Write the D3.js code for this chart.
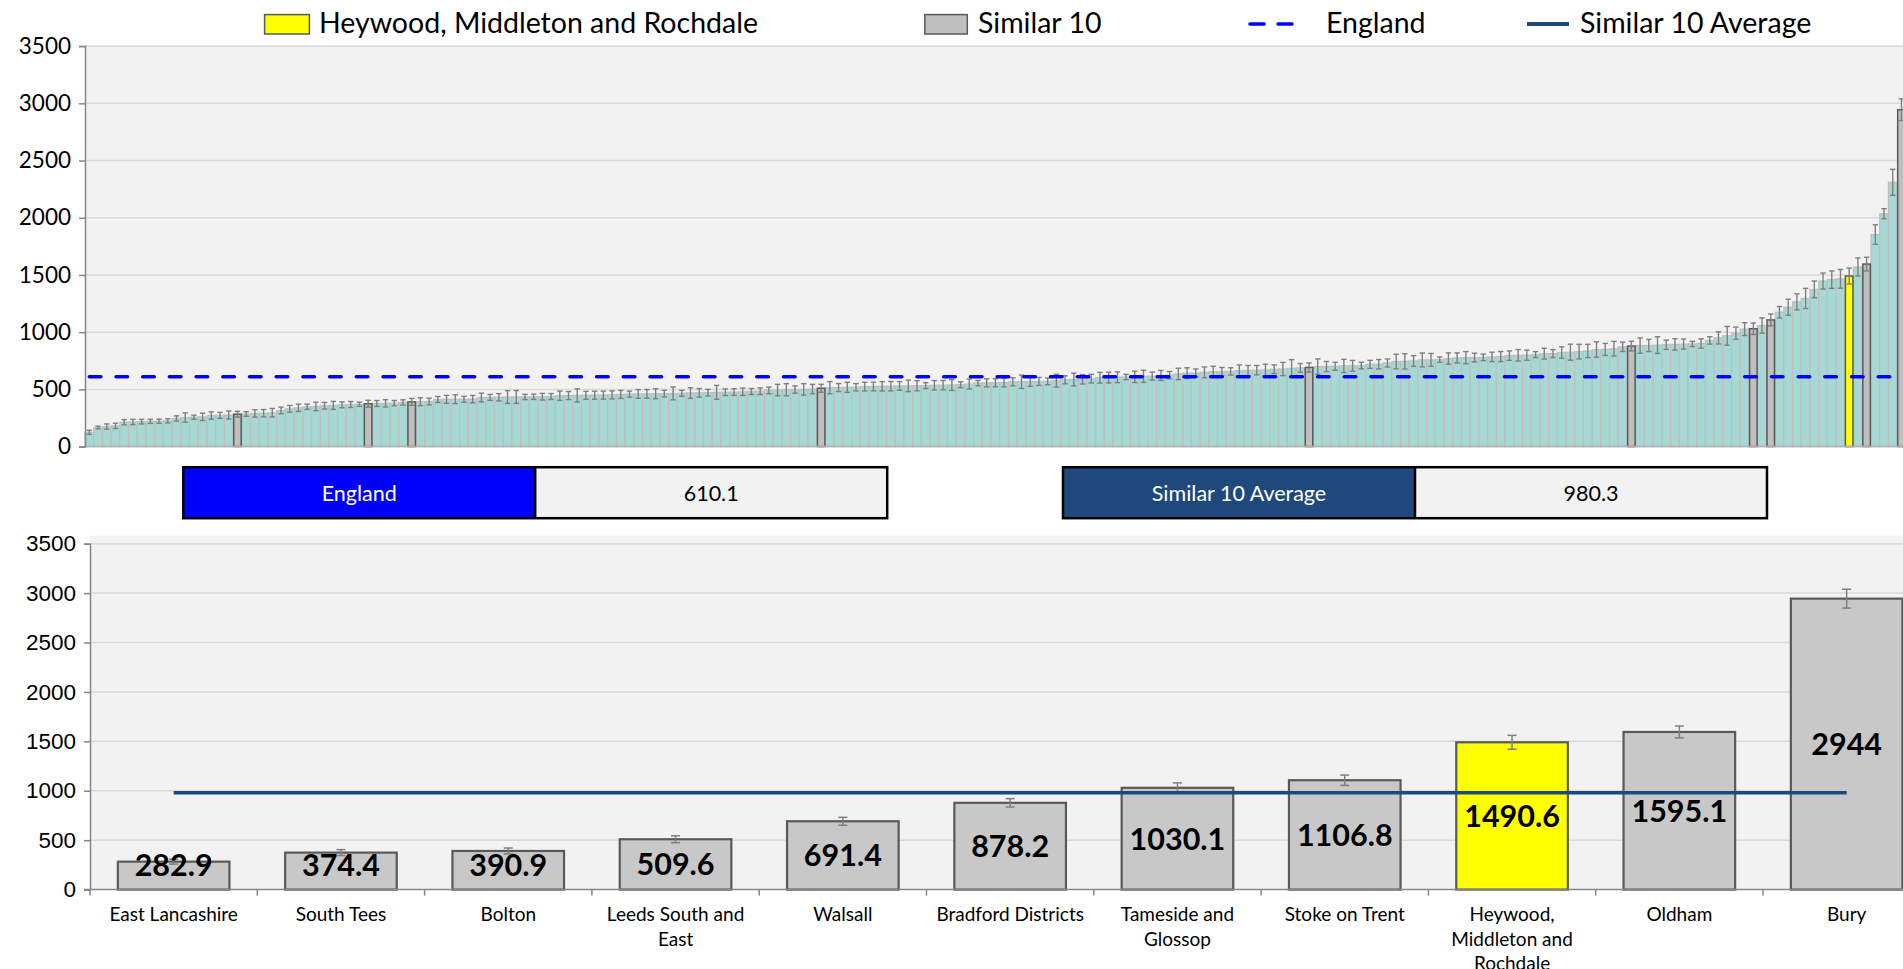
<!DOCTYPE html>
<html><head><meta charset="utf-8">
<script src="https://cdn.jsdelivr.net/npm/d3@7"></script>
<style>
html,body{margin:0;padding:0;background:#fff;overflow:hidden;}
svg{display:block;font-family:Lato, "Liberation Sans", sans-serif;}
</style></head><body>
<svg id="chart" width="1903" height="969"></svg>
<script>
// ---------- DATA ----------
// All CCGs, sorted ascending (rate per 100,000)
const allValues = [
125,167,175,181,213,215,218,221,222,225,246,254,257,260,272,273,276,282.9,285,290,
292,296,316,330,339,348,351,357,360,365,368,370,374.4,377,378,380,386,390.9,392,394,
412,413,414,414,415,429,430,431,433,434,434,435,436,438,444,446,447,448,449,450,
452,456,459,460,461,462,463,465,466,468,470,471,474,475,477,479,482,484,491,494,
497,499,500,503,509.6,515,516,518,519,524,525,527,528,530,531,532,533,536,537,538,
541,547,555,557,558,560,566,567,568,569,570,576,584,586,588,594,602,603,606,608,
610,614,616,622,624,635,642,643,649,655,656,657,664,665,668,670,676,678,684,688,
691.4,699,700,702,705,706,708,719,720,731,743,745,748,757,758,760,769,775,777,778,
780,784,787,795,798,799,804,812,813,822,825,830,836,848,849,855,872,878.2,883,884,
887,890,893,896,897,901,928,950,968,991,1027,1030.1,1058,1106.8,1174,1218,1265,1295,1374,1447,
1459,1466,1490.6,1570,1595.1,1853,2035,2310,2944
];
// half width of the 95% confidence interval for each CCG
const allCI = [
18,12,23,23,23,23,20,18,18,18,23,41,18,32,32,26,35,25,20,32,
32,37,29,29,32,23,37,29,35,26,26,18,30,26,32,23,23,30,35,29,
26,35,38,26,32,38,26,32,56,56,23,23,29,26,41,35,58,35,35,35,
35,35,26,38,38,44,29,56,26,47,38,29,61,29,29,32,26,29,29,50,
53,32,50,41,35,53,35,44,32,38,38,41,41,38,50,44,26,41,41,47,
26,44,23,35,35,38,35,58,41,35,29,56,35,56,41,38,47,47,47,23,
50,53,35,44,32,50,47,35,47,47,35,32,50,44,41,50,38,58,76,38,
40,67,44,35,58,47,29,35,41,35,64,67,47,61,56,23,50,44,53,38,
29,41,44,41,50,44,26,47,35,50,70,64,58,67,53,64,41,42,67,53,
73,41,50,44,23,41,32,53,82,53,56,50,67,52,50,70,70,88,73,70,
76,82,70,79,60,85,44,114,95
];
const categories = ["East Lancashire","South Tees","Bolton","Leeds South and East","Walsall",
  "Bradford Districts","Tameside and Glossop","Stoke on Trent","Heywood, Middleton and Rochdale","Oldham","Bury"];
const similarValues = [282.9,374.4,390.9,509.6,691.4,878.2,1030.1,1106.8,1490.6,1595.1,2944];
const similarCI = [25,30,30,35,40,42,50,52,70,60,95];
const focusName = "Heywood, Middleton and Rochdale";
const englandValue = 610.1;
const similarAverage = 980.3;
const yTicks = [0,500,1000,1500,2000,2500,3000,3500];
const legendLabels = ["Heywood, Middleton and Rochdale","Similar 10","England","Similar 10 Average"];

// ---------- STYLE ----------
const C = {
  bg:"#F2F2F2", grid:"#D9D9D9", axis:"#868686",
  teal:"#A6D8D4", tealStroke:"#BFBFBF",
  gray:"#BFBFBF", grayB:"#C8C8C8", barStroke:"#595959",
  yellow:"#FFFF00", err:"#7F7F7F",
  england:"#0000FF", avg:"#1F497D"
};
const svg = d3.select("#chart");
const focusValue = similarValues[categories.indexOf(focusName)];
const fmtTick = d3.format("d");

// ---------- TOP CHART ----------
const xT = d3.scaleBand().domain(d3.range(allValues.length)).range([85, 1905.8]).padding(0);
const yT = d3.scaleLinear().domain([0,3500]).range([446.6, 46.1]);
const gT = svg.append("g");
gT.append("rect").attr("x",85).attr("y",yT(3500)).attr("width",1903-85).attr("height",yT(0)-yT(3500)).attr("fill",C.bg);
gT.selectAll(".gl").data(yTicks.filter(d=>d>0)).join("line")
  .attr("x1",85).attr("x2",1903).attr("y1",d=>yT(d)).attr("y2",d=>yT(d))
  .attr("stroke",C.grid).attr("stroke-width",1.5);

const kind = v => v===focusValue ? "focus" : (similarValues.includes(v) ? "sim" : "all");
const bars = allValues.map((v,i)=>({v, i, ci: allCI[i], k: kind(v)}));

gT.selectAll(".tb").data(bars.filter(d=>d.k==="all")).join("rect")
  .attr("x",d=>xT(d.i)).attr("width",xT.bandwidth())
  .attr("y",d=>yT(d.v)).attr("height",d=>yT(0)-yT(d.v))
  .attr("fill",C.teal).attr("stroke",C.tealStroke).attr("stroke-width",1.2);
gT.selectAll(".sb").data(bars.filter(d=>d.k!=="all")).join("rect")
  .attr("x",d=>xT(d.i)+0.6).attr("width",xT.bandwidth()-1.2)
  .attr("y",d=>yT(d.v)).attr("height",d=>yT(0)-yT(d.v))
  .attr("fill",d=>d.k==="focus"?C.yellow:C.gray).attr("stroke",C.barStroke).attr("stroke-width",1.5);

// error bars
const eb = gT.append("g").attr("stroke",C.err).attr("stroke-width",1.4);
bars.forEach(d=>{
  const cx = xT(d.i)+xT.bandwidth()/2;
  eb.append("line").attr("x1",cx).attr("x2",cx).attr("y1",yT(d.v-d.ci)).attr("y2",yT(d.v+d.ci));
  eb.append("line").attr("x1",cx-2.7).attr("x2",cx+2.7).attr("y1",yT(d.v-d.ci)).attr("y2",yT(d.v-d.ci));
  eb.append("line").attr("x1",cx-2.7).attr("x2",cx+2.7).attr("y1",yT(d.v+d.ci)).attr("y2",yT(d.v+d.ci));
});

// axes
gT.append("line").attr("x1",85).attr("x2",1903).attr("y1",yT(0)).attr("y2",yT(0)).attr("stroke","#B0B0B0").attr("stroke-width",1.5);
const axT = d3.axisLeft(yT).tickValues(yTicks).tickFormat(fmtTick).tickSize(6).tickPadding(8);
const axTg = gT.append("g").attr("transform","translate(85,0)").call(axT);
axTg.select(".domain").attr("stroke",C.axis).attr("stroke-width",1.5);
axTg.selectAll(".tick line").attr("stroke",C.axis).attr("stroke-width",1.5);
axTg.selectAll(".tick text").attr("font-size",22.5).attr("fill","#000").attr("font-family","Lato");

// England line
gT.append("line")
  .attr("x1",xT(0)+xT.bandwidth()/2).attr("x2",xT(allValues.length-1)+xT.bandwidth()/2)
  .attr("y1",yT(englandValue)).attr("y2",yT(englandValue))
  .attr("stroke",C.england).attr("stroke-width",3.6).attr("stroke-dasharray","11.5 15.2").attr("stroke-linecap","round");

// ---------- LEGEND ----------
const lg = svg.append("g").attr("font-size",28.5).attr("fill","#000");
lg.append("rect").attr("x",264.6).attr("y",14.6).attr("width",44.8).attr("height",19.4).attr("fill",C.yellow).attr("stroke",C.barStroke).attr("stroke-width",1.5);
lg.append("text").attr("x",319).attr("y",33).text(legendLabels[0]);
lg.append("rect").attr("x",924.8).attr("y",14.6).attr("width",42.5).attr("height",19.4).attr("fill",C.gray).attr("stroke",C.barStroke).attr("stroke-width",1.5);
lg.append("text").attr("x",978).attr("y",33).text(legendLabels[1]);
lg.append("line").attr("x1",1250).attr("x2",1304).attr("y1",24).attr("y2",24).attr("stroke",C.england).attr("stroke-width",3.6).attr("stroke-dasharray","14 14").attr("stroke-linecap","round");
lg.append("text").attr("x",1326).attr("y",33).text(legendLabels[2]);
lg.append("line").attr("x1",1527).attr("x2",1569).attr("y1",24).attr("y2",24).attr("stroke",C.avg).attr("stroke-width",4);
lg.append("text").attr("x",1580).attr("y",33).text(legendLabels[3]);

// ---------- VALUE BOXES ----------
function box(x0, split, x1, label, value, color){
  const g = svg.append("g");
  g.append("rect").attr("x",x0).attr("y",467.2).attr("width",split-x0).attr("height",51).attr("fill",color);
  g.append("rect").attr("x",split).attr("y",467.2).attr("width",x1-split).attr("height",51).attr("fill",C.bg);
  g.append("rect").attr("x",x0).attr("y",467.2).attr("width",x1-x0).attr("height",51).attr("fill","none").attr("stroke","#000").attr("stroke-width",2.5);
  g.append("line").attr("x1",split).attr("x2",split).attr("y1",467.2).attr("y2",518.2).attr("stroke","#000").attr("stroke-width",2.5);
  g.append("text").attr("x",(x0+split)/2).attr("y",493).attr("dy","0.35em").attr("text-anchor","middle").attr("font-size",21.5).attr("fill","#fff").text(label);
  g.append("text").attr("x",(split+x1)/2).attr("y",493).attr("dy","0.35em").attr("text-anchor","middle").attr("font-size",21.5).attr("fill","#000").text(value);
}
box(183.3, 535.2, 887.2, "England", englandValue.toFixed(1), C.england);
box(1063, 1415, 1767, "Similar 10 Average", similarAverage.toFixed(1), C.avg);

// ---------- BOTTOM CHART ----------
const xB = d3.scaleBand().domain(categories).range([90, 90+11*167.3]).paddingInner(0.333).paddingOuter(0.1665);
const yB = d3.scaleLinear().domain([0,3500]).range([889.6, 543.7]);
const gB = svg.append("g");
gB.append("rect").attr("x",90).attr("y",yB(3500)-8).attr("width",1903-90).attr("height",yB(0)-yB(3500)+8).attr("fill",C.bg);
gB.selectAll(".gl").data(yTicks.filter(d=>d>0)).join("line")
  .attr("x1",90).attr("x2",1903).attr("y1",d=>yB(d)).attr("y2",d=>yB(d))
  .attr("stroke",C.grid).attr("stroke-width",1.5);
const bd = categories.map((c,i)=>({c, v: similarValues[i], ci: similarCI[i]}));
gB.selectAll(".bb").data(bd).join("rect")
  .attr("x",d=>xB(d.c)).attr("width",xB.bandwidth())
  .attr("y",d=>yB(d.v)).attr("height",d=>yB(0)-yB(d.v))
  .attr("fill",d=>d.c===focusName?C.yellow:C.grayB).attr("stroke",C.barStroke).attr("stroke-width",2.2);
const ebB = gB.append("g").attr("stroke",C.err).attr("stroke-width",1.5);
bd.forEach(d=>{
  const cx = xB(d.c)+xB.bandwidth()/2;
  ebB.append("line").attr("x1",cx).attr("x2",cx).attr("y1",yB(d.v-d.ci)).attr("y2",yB(d.v+d.ci));
  [d.v-d.ci, d.v+d.ci].forEach(v=>ebB.append("line").attr("x1",cx-4.5).attr("x2",cx+4.5).attr("y1",yB(v)).attr("y2",yB(v)));
});
// average line
gB.append("line")
  .attr("x1",xB(categories[0])+xB.bandwidth()/2).attr("x2",xB(categories[10])+xB.bandwidth()/2)
  .attr("y1",yB(similarAverage)).attr("y2",yB(similarAverage))
  .attr("stroke",C.avg).attr("stroke-width",3.5);
// data labels (centred, kept inside the plot area)
gB.selectAll(".dl").data(bd).join("text")
  .attr("x",d=>xB(d.c)+xB.bandwidth()/2).attr("y",d=>Math.min((yB(d.v)+yB(0))/2, yB(0)-25))
  .attr("dy","0.36em").attr("text-anchor","middle").attr("font-weight","bold").attr("font-size",30.5).attr("fill","#000")
  .text(d=>d.v===Math.round(d.v)?d3.format("d")(d.v):d3.format(".1f")(d.v));
// axes
const axB = d3.axisLeft(yB).tickValues(yTicks).tickFormat(fmtTick).tickSize(6).tickPadding(8);
const axBg = gB.append("g").attr("transform","translate(90,0)").call(axB);
axBg.select(".domain").attr("stroke",C.axis).attr("stroke-width",1.5);
axBg.selectAll(".tick line").attr("stroke",C.axis).attr("stroke-width",1.5);
axBg.selectAll(".tick text").attr("font-size",22.5).attr("fill","#000");
gB.append("line").attr("x1",84).attr("x2",1903).attr("y1",yB(0)).attr("y2",yB(0)).attr("stroke",C.axis).attr("stroke-width",1.5);
const step = xB.step();
gB.selectAll(".xt").data(d3.range(categories.length+1)).join("line")
  .attr("x1",i=>90+i*step).attr("x2",i=>90+i*step).attr("y1",yB(0)).attr("y2",yB(0)+6)
  .attr("stroke",C.axis).attr("stroke-width",1.5);
const xl = gB.selectAll(".xl").data(categories).join("text")
  .attr("transform",d=>`translate(${xB(d)+xB.bandwidth()/2},921)`)
  .attr("text-anchor","middle").attr("font-size",19).attr("fill","#000").text(d=>d);
xl.each(function(){
  const t = d3.select(this);
  const words = t.text().split(/\s+/);
  t.text(null);
  let line = [];
  let ts = t.append("tspan").attr("x",0).attr("dy",0);
  words.forEach(w=>{
    line.push(w); ts.text(line.join(" "));
    if (ts.node().getComputedTextLength() > 158 && line.length>1){
      line.pop(); ts.text(line.join(" "));
      line=[w];
      ts = t.append("tspan").attr("x",0).attr("dy",24.5).text(w);
    }
  });
});
</script>
</body></html>
